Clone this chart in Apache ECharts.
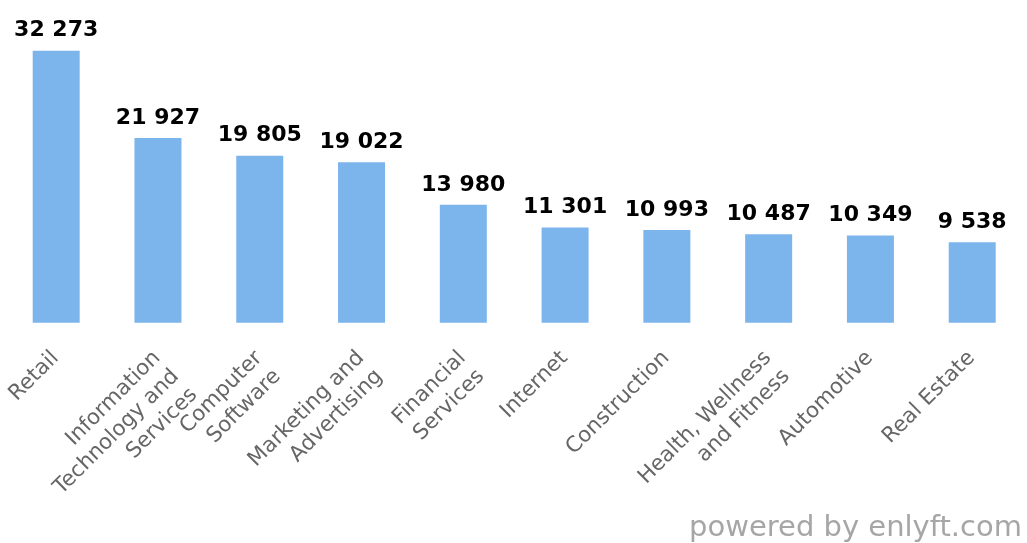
<!DOCTYPE html>
<html>
<head>
<meta charset="utf-8">
<title>Top industries</title>
<script src="https://cdn.jsdelivr.net/npm/echarts@6/dist/echarts.min.js"></script>
<style>
  html, body { margin: 0; padding: 0; background: #ffffff; }
  #chart { width: 1027px; height: 543px; }
</style>
</head>
<body>
<div id="chart"></div>
<script>
// Industry names, already broken into the lines shown under each bar
const categories = [
  'Retail',
  'Information\nTechnology and\nServices',
  'Computer\nSoftware',
  'Marketing and\nAdvertising',
  'Financial\nServices',
  'Internet',
  'Construction',
  'Health, Wellness\nand Fitness',
  'Automotive',
  'Real Estate'
];

// Number of companies per industry
const companies = [32273, 21927, 19805, 19022, 13980, 11301, 10993, 10487, 10349, 9538];

// Thousands are grouped with a space: 32 273
function groupThousands(v) {
  return String(v).replace(/\B(?=(\d{3})+(?!\d))/g, ' ');
}

const chart = echarts.init(document.getElementById('chart'), null, { renderer: 'canvas' });

chart.setOption({
  animation: false,
  backgroundColor: '#ffffff',
  textStyle: { fontFamily: 'DejaVu Sans' },
  grid: { left: 5.3, right: 3.9, top: 27.7, bottom: 220.3, containLabel: false },
  xAxis: {
    type: 'category',
    data: categories,
    axisLine: { show: false },
    axisTick: { show: false },
    splitLine: { show: false },
    axisLabel: {
      interval: 0,
      rotate: 45,
      margin: 13,
      padding: [0, 14, 0, 0],
      align: 'right',
      verticalAlign: 'top',
      color: '#666666',
      fontFamily: 'DejaVu Sans',
      fontSize: 21.4,
      lineHeight: 26,
      hideOverlap: false
    }
  },
  yAxis: {
    type: 'value',
    min: 0,
    max: 35000,
    show: false,
    splitLine: { show: false }
  },
  series: [{
    type: 'bar',
    data: companies,
    barWidth: 47,
    itemStyle: { color: '#7cb5ec' },
    label: {
      show: true,
      position: 'top',
      distance: 9,
      formatter: p => groupThousands(p.value),
      color: '#000000',
      fontFamily: 'DejaVu Sans',
      fontWeight: 'bold',
      fontSize: 22,
      textBorderColor: '#ffffff',
      textBorderWidth: 2
    }
  }],
  graphic: [{
    type: 'text',
    x: 1022,
    y: 543,
    style: {
      text: 'powered by enlyft.com',
      align: 'right',
      verticalAlign: 'bottom',
      fill: '#a6a6a6',
      font: '29px "DejaVu Sans"'
    }
  }]
});
</script>
</body>
</html>
